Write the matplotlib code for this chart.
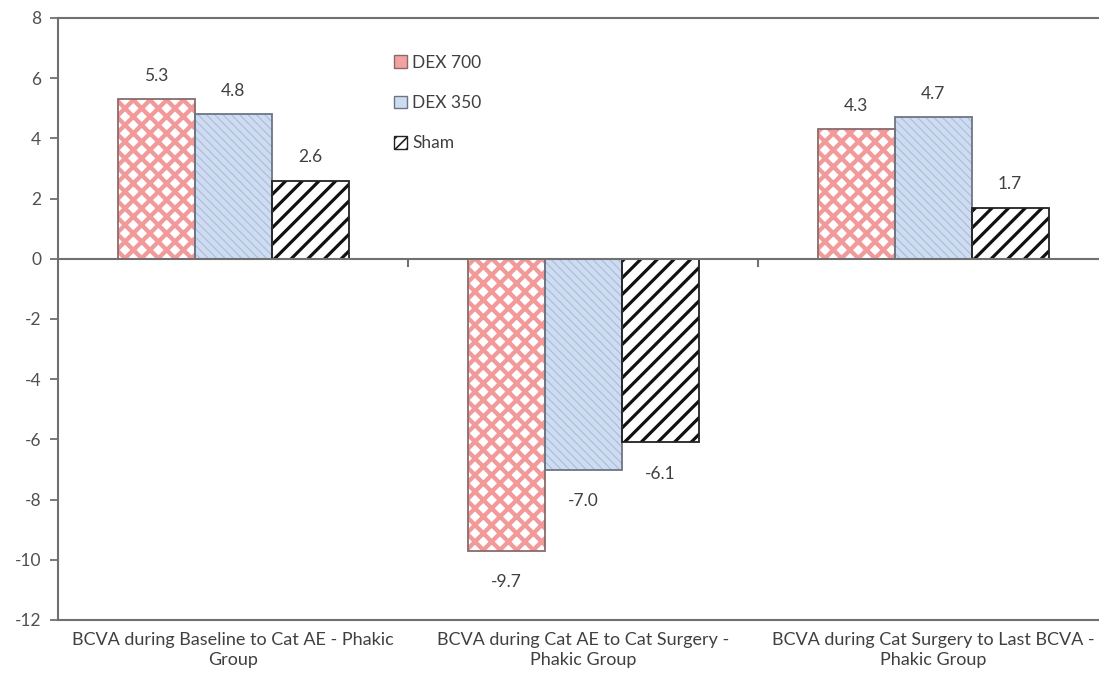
import matplotlib
matplotlib.use("Agg")
import matplotlib.pyplot as plt
import numpy as np
from matplotlib.patches import Patch

categories = [
    "BCVA during Baseline to Cat AE - Phakic\nGroup",
    "BCVA during Cat AE to Cat Surgery -\nPhakic Group",
    "BCVA during Cat Surgery to Last BCVA -\nPhakic Group",
]
series_names = ["DEX 700", "DEX 350", "Sham"]
dex700 = [5.3, -9.7, 4.3]
dex350 = [4.8, -7.0, 4.7]
sham = [2.6, -6.1, 1.7]
y_ticks = [8, 6, 4, 2, 0, -2, -4, -6, -8, -10, -12]

plt.rcParams["font.family"] = ["Lato", "DejaVu Sans"]

styles = [
    # face, hatch, hatch colour, hatch width, outline
    dict(face="white", hatch="xx", hcol="#f29a9a", hlw=3.1, edge="#8a6a6a"),
    dict(face="#cddcf1", hatch="\\\\\\\\", hcol="#abbdd6", hlw=0.8, edge="#6d7585"),
    dict(face="white", hatch="//", hcol="#111111", hlw=2.3, edge="#222222"),
]

fig = plt.figure(figsize=(10.99, 6.95), dpi=100)
ax = fig.add_axes([58 / 1099, 1 - 620 / 695, (1108 - 58) / 1099, (620 - 18) / 695])

x = np.arange(len(categories))
width = 0.22
text_col = "#404040"


def hatched_bars(pos, vals, st):
    bars = ax.bar(pos, vals, width, color=st["face"], hatch=st["hatch"],
                  edgecolor=st["hcol"], linewidth=0, zorder=2)
    for b in bars:
        if hasattr(b, "set_hatch_linewidth"):
            b.set_hatch_linewidth(st["hlw"])
    ax.bar(pos, vals, width, fill=False, edgecolor=st["edge"], linewidth=1.3, zorder=3)


for i, (vals, st) in enumerate(zip([dex700, dex350, sham], styles)):
    pos = x + (i - 1) * width
    with plt.rc_context({"hatch.linewidth": st["hlw"]}):
        hatched_bars(pos, vals, st)
    for p, v in zip(pos, vals):
        if v >= 0:
            ax.annotate(f"{v:.1f}", (p, v), xytext=(0, 11), textcoords="offset points",
                        ha="center", va="bottom", fontsize=12.5, color=text_col)
        else:
            ax.annotate(f"{v:.1f}", (p, v), xytext=(0, -17), textcoords="offset points",
                        ha="center", va="top", fontsize=12.5, color=text_col)

ax.set_xlim(-0.5, len(categories) - 0.5)
ax.set_ylim(-12, 8)
ax.set_yticks(y_ticks)
ax.set_yticklabels([str(t) for t in y_ticks])
ax.tick_params(axis="y", direction="out", length=6, width=1.3, colors="#707070",
               labelcolor="#505050", labelsize=12.5, pad=6)

ax.set_xticks(x)
ax.set_xticklabels(categories, fontsize=13, color=text_col, linespacing=1.3)
ax.tick_params(axis="x", length=0, pad=9)

for side in ["left", "top", "bottom"]:
    ax.spines[side].set_color("#707070")
    ax.spines[side].set_linewidth(1.5)
ax.spines["right"].set_visible(False)

# zero line with category divider ticks
ax.axhline(0, color="#707070", linewidth=1.5, zorder=4)
zero_axis = ax.secondary_xaxis(12 / 20)
zero_axis.set_xticks(x[:-1] + 0.5)
zero_axis.set_xticklabels([])
zero_axis.tick_params(direction="in", length=6, width=1.5, colors="#707070")
for s in zero_axis.spines.values():
    s.set_visible(False)

with plt.rc_context({"hatch.linewidth": 1.2}):
    handles = [
        Patch(facecolor="#f3a2a2", edgecolor="#8a6a6a", linewidth=1),
        Patch(facecolor="#cddcf1", edgecolor="#6d7585", linewidth=1),
        Patch(facecolor="white", hatch="///", edgecolor="#222222", linewidth=1),
    ]
    leg = ax.legend(handles, series_names, loc="upper left", bbox_to_anchor=(0.305, 0.965),
                    frameon=False, fontsize=12.5, handlelength=0.75, handleheight=0.75,
                    handletextpad=0.3, labelspacing=1.4, labelcolor=text_col)

fig.savefig("out.png", dpi=100)
